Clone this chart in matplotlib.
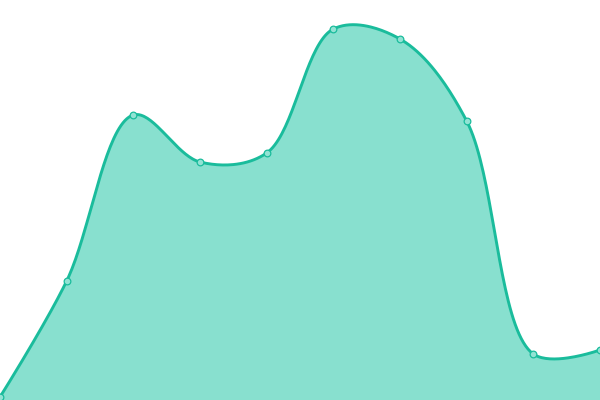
import numpy as np
import matplotlib
matplotlib.use("Agg")
import matplotlib.pyplot as plt

xs = [0, 1, 2, 3, 4, 5, 6, 7, 8, 9]
values = [3, 119, 285, 238, 247, 371, 361, 279, 46, 50]

line_color = '#1abc9c'
fill_color = '#88e0cf'


def catmull_rom(x, y, sx=600/9.0, alpha=0.5, n=40):
    # centripetal catmull-rom (as d3.curveCatmullRom), done in pixel space
    P = np.column_stack([np.asarray(x, float) * sx, np.asarray(y, float)])
    pts = np.vstack([P[0], P, P[-1]])
    out = []
    for i in range(1, len(pts) - 2):
        p0, p1, p2, p3 = pts[i-1], pts[i], pts[i+1], pts[i+2]
        l01 = np.linalg.norm(p1 - p0) ** alpha
        l12 = np.linalg.norm(p2 - p1) ** alpha
        l23 = np.linalg.norm(p3 - p2) ** alpha
        c1 = p1.copy()
        c2 = p2.copy()
        if l01 > 1e-9:
            a = 2*l01**2 + 3*l01*l12 + l12**2
            m = 3*l01*(l01 + l12)
            c1 = (p1*a - p0*l12**2 + p2*l01**2) / m
        if l23 > 1e-9:
            b = 2*l23**2 + 3*l23*l12 + l12**2
            m = 3*l23*(l23 + l12)
            c2 = (p2*b + p1*l23**2 - p3*l12**2) / m
        t = np.linspace(0, 1, n)[:, None]
        seg = ((1-t)**3)*p1 + 3*((1-t)**2)*t*c1 + 3*(1-t)*t**2*c2 + t**3*p2
        out.append(seg)
    c = np.vstack(out)
    return c[:, 0] / sx, c[:, 1]


cx, cy = catmull_rom(xs, values)

fig = plt.figure(figsize=(6, 4), dpi=100)
ax = fig.add_axes([0, 0, 1, 1])
ax.fill_between(cx, cy, 0, color=fill_color, linewidth=0)
ax.plot(cx, cy, color=line_color, linewidth=2.1, solid_capstyle='round')
ax.plot(xs, values, 'o', markersize=4.8, markerfacecolor='#92e3d4',
        markeredgecolor=line_color, markeredgewidth=0.9, clip_on=False)

ax.set_xlim(0, 9)
ax.set_ylim(0, 400)
ax.axis('off')

fig.savefig('out.png', dpi=100)
